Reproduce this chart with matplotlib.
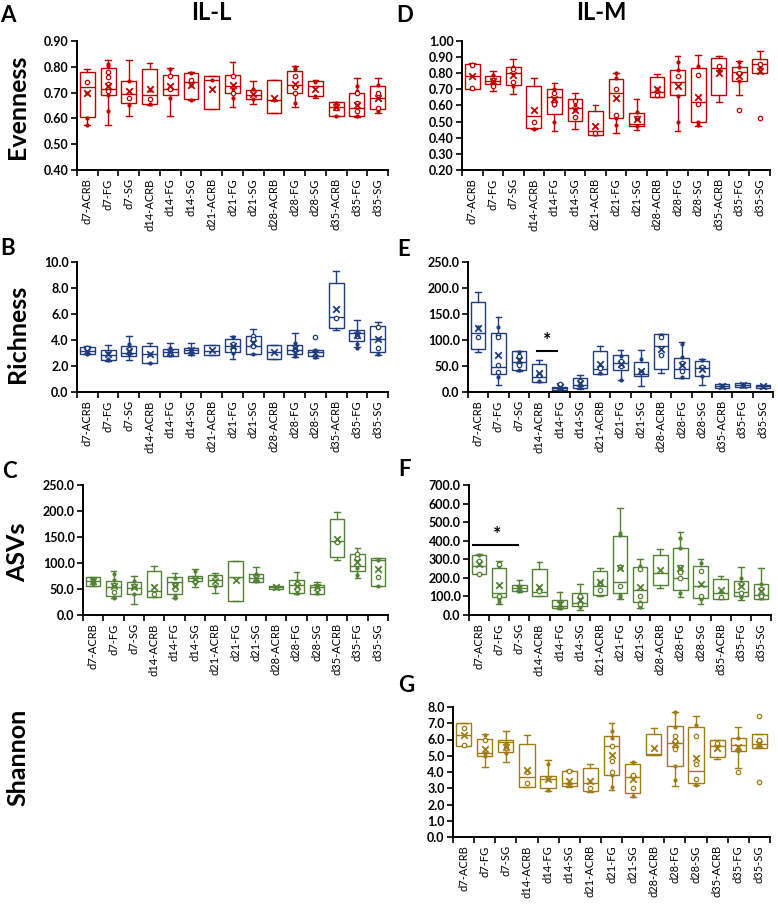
import matplotlib.pyplot as plt
from matplotlib.ticker import FormatStrFormatter, MultipleLocator

plt.rcParams['font.family'] = ['Lato', 'DejaVu Sans']

groups = ['d7-ACRB', 'd7-FG', 'd7-SG', 'd14-ACRB', 'd14-FG', 'd14-SG',
          'd21-ACRB', 'd21-FG', 'd21-SG', 'd28-ACRB', 'd28-FG', 'd28-SG',
          'd35-ACRB', 'd35-FG', 'd35-SG']

RED = '#C00000'
BLUE = '#1F3C7C'
GREEN = '#548235'
GOLD = '#A07B12'

# box rows: (whisker low, q1, median, q3, whisker high)

# A - IL-L evenness
even_L_box = [(0.575, 0.605, 0.72, 0.78, 0.79), (0.575, 0.69, 0.715, 0.795, 0.825),
              (0.61, 0.66, 0.695, 0.745, 0.825), (0.65, 0.655, 0.69, 0.79, 0.815),
              (0.61, 0.69, 0.715, 0.77, 0.795), (0.67, 0.675, 0.74, 0.775, 0.78),
              (0.635, 0.635, 0.75, 0.765, 0.765), (0.645, 0.70, 0.725, 0.77, 0.82),
              (0.655, 0.675, 0.69, 0.71, 0.745), (0.62, 0.62, 0.67, 0.75, 0.75),
              (0.645, 0.70, 0.73, 0.785, 0.805), (0.68, 0.685, 0.725, 0.745, 0.75),
              (0.61, 0.61, 0.645, 0.665, 0.665), (0.605, 0.61, 0.64, 0.70, 0.755),
              (0.62, 0.635, 0.68, 0.725, 0.755)]
even_L_mean = [0.70, 0.725, 0.705, 0.715, 0.725, 0.73, 0.715, 0.73, 0.695, 0.68,
               0.735, 0.715, 0.645, 0.65, 0.68]
even_L_dots = [[0.70, 0.60, 0.575], [0.81, 0.69, 0.63, 0.805], [0.745, 0.65], [0.71, 0.655],
               [0.79, 0.72, 0.68], [0.775, 0.67, 0.73], [0.75], [0.68, 0.715], [0.715, 0.675],
               [0.67], [0.80, 0.79, 0.66], [0.74, 0.685], [0.66, 0.61], [0.725, 0.61, 0.705],
               [0.73, 0.63]]
even_L_rings = [[0.74], [0.78, 0.76, 0.735, 0.705], [0.68], [0.675], [0.765, 0.715], [0.75],
                [], [0.765, 0.70], [], [], [0.765, 0.72, 0.70], [], [0.64],
                [0.70, 0.66, 0.63], [0.70, 0.64]]

# D - IL-M evenness
even_M_box = [(0.70, 0.705, 0.78, 0.855, 0.865), (0.69, 0.735, 0.755, 0.785, 0.815),
              (0.67, 0.725, 0.80, 0.84, 0.89), (0.455, 0.46, 0.535, 0.72, 0.77),
              (0.44, 0.55, 0.65, 0.705, 0.74), (0.455, 0.505, 0.585, 0.64, 0.675),
              (0.42, 0.42, 0.44, 0.565, 0.60), (0.43, 0.52, 0.68, 0.765, 0.80),
              (0.445, 0.475, 0.485, 0.555, 0.64), (0.65, 0.65, 0.685, 0.775, 0.795),
              (0.44, 0.665, 0.745, 0.82, 0.905), (0.47, 0.495, 0.62, 0.835, 0.915),
              (0.62, 0.665, 0.83, 0.895, 0.905), (0.665, 0.75, 0.805, 0.84, 0.875),
              (0.80, 0.80, 0.855, 0.89, 0.935)]
even_M_mean = [0.78, 0.755, 0.79, 0.57, 0.64, 0.575, 0.475, 0.645, 0.515, 0.70, 0.72,
               0.655, 0.80, 0.785, 0.815]
even_M_dots = [[], [0.79, 0.74, 0.72], [0.84, 0.72], [0.455], [0.70, 0.60, 0.50], [0.60, 0.57],
               [0.425], [0.80, 0.77, 0.52, 0.48], [0.56, 0.47], [0.70], [0.87, 0.82, 0.66, 0.50],
               [0.845, 0.495, 0.48], [0.82], [0.87, 0.84, 0.75], [0.84]]
even_M_rings = [[0.85, 0.71], [0.76, 0.72], [0.825, 0.745], [0.50], [0.68, 0.63, 0.61],
                [0.63, 0.53], [0.43], [0.70, 0.54], [0.52], [0.665], [0.78], [0.79, 0.61],
                [0.845], [0.575, 0.80], [0.525, 0.86]]

# B - IL-L richness
rich_L_box = [(2.9, 2.9, 3.15, 3.45, 3.55), (2.4, 2.5, 2.85, 3.2, 3.65), (2.45, 2.75, 3.0, 3.55, 4.3),
              (2.2, 2.25, 2.9, 3.55, 3.75), (2.8, 2.8, 3.1, 3.3, 3.8), (2.85, 3.0, 3.2, 3.35, 3.75),
              (2.85, 2.85, 3.15, 3.65, 3.65), (2.55, 3.1, 3.55, 4.05, 4.3), (2.9, 2.95, 3.55, 4.3, 4.85),
              (2.55, 2.55, 3.1, 3.6, 3.6), (2.7, 2.95, 3.25, 3.65, 4.5), (2.65, 2.8, 3.05, 3.25, 3.25),
              (4.75, 4.95, 5.75, 8.4, 9.3), (3.45, 3.9, 4.5, 4.8, 5.5), (2.85, 3.05, 4.05, 5.05, 5.4)]
rich_L_mean = [3.15, 2.9, 3.15, 2.9, 3.1, 3.2, 3.2, 3.55, 3.75, 3.1, 3.35, 3.0, 6.35, 4.4, 4.1]
rich_L_dots = [[2.95, 3.1, 3.4], [2.55, 3.0, 2.45], [3.7, 2.9, 3.1], [2.2, 2.9], [3.35, 3.05, 2.85],
               [3.3, 3.0, 2.9], [], [4.2, 3.0, 3.4], [3.6, 2.95], [], [3.75, 2.8, 3.1], [3.2, 2.7],
               [], [4.6, 3.7, 3.4], [4.1, 2.9]]
rich_L_rings = [[3.4], [], [3.3], [], [3.0], [], [], [3.7, 3.2], [4.3, 4.1, 3.5], [], [3.3], [4.2],
                [5.7], [4.3], [5.0, 3.4]]

# E - IL-M richness
rich_M_box = [(76, 82, 114, 174, 192), (14, 35, 48, 114, 145), (41, 43, 58, 78, 78), (20, 20, 28, 54, 61),
              (3, 4, 8, 10, 18), (5, 8, 14, 26, 33), (34, 34, 45, 78, 88), (24, 42, 56, 71, 81),
              (11, 31, 35, 58, 81), (37, 45, 88, 111, 111), (27, 27, 45, 66, 97), (13, 31, 46, 60, 63),
              (8, 8, 12, 15, 15), (9, 10, 13, 17, 18), (8.5, 8.5, 11, 13.5, 13.5)]
rich_M_mean = [124, 72, 62, 36, 10, 18, 53, 54, 40, 82, 52, 45, 12, 14, 11]
rich_M_dots = [[125], [125, 28], [77, 42], [22], [5], [10], [36], [70, 24], [64, 36], [110],
               [92, 67, 28], [62, 30], [], [16, 11], []]
rich_M_rings = [[105], [110, 105, 52, 38], [52, 70], [32], [15], [22], [47], [60, 50], [38],
                [105, 72], [40, 55], [48], [], [], []]

# C - IL-L ASVs
asv_L_box = [(56, 56, 65, 73, 73), (32, 37, 54, 65, 85), (22, 40, 51, 64, 75), (35, 35, 46, 85, 95),
             (32, 40, 63, 74, 80), (53, 65, 72, 75, 88), (43, 56, 67, 76, 81), (26, 26, 73, 103, 103),
             (63, 64, 72, 78, 92), (50, 50, 54, 56, 56), (40, 42, 58, 67, 82), (40, 40, 53, 58, 63),
             (106, 112, 143, 185, 199), (71, 85, 95, 118, 129), (56, 56, 106, 109, 109)]
asv_L_mean = [65, 55, 53, 54, 55, 70, 66, 67, 72, 53, 55, 53, 147, 101, 88]
asv_L_dots = [[60, 70], [78, 68, 35, 33], [65, 40], [], [72, 36, 33], [85, 68, 62], [75, 55], [],
              [78, 66], [], [65, 42], [58, 42], [], [90, 77], [106, 56]]
asv_L_rings = [[65], [58, 45], [55], [40], [57, 50], [65], [], [], [], [], [60, 50], [50], [140],
               [110, 118], [74]]

# F - IL-M ASVs
asv_M_box = [(221, 221, 266, 323, 328), (57, 95, 120, 255, 291), (126, 129, 144, 162, 188),
             (104, 104, 126, 248, 287), (31, 36, 50, 81, 126), (27, 50, 63, 117, 165),
             (104, 108, 158, 237, 255), (86, 117, 176, 427, 574), (36, 68, 135, 260, 301),
             (144, 162, 228, 323, 355), (99, 135, 201, 363, 449), (57, 93, 156, 265, 300),
             (86, 86, 117, 194, 212), (81, 104, 126, 185, 260), (86, 86, 108, 167, 251)]
asv_M_mean = [273, 162, 147, 153, 60, 80, 180, 251, 153, 242, 255, 165, 135, 158, 129]
asv_M_dots = [[325], [265, 85, 70], [155, 130], [], [70, 38], [45], [], [440, 430, 265, 110, 95],
              [265, 70, 45], [], [415, 360, 120], [280, 85], [130], [200, 95], [165, 90]]
asv_M_rings = [[290, 222], [275, 105], [], [130], [], [100, 60], [175, 135], [260, 155],
               [250, 100, 60], [], [260, 230, 200], [235, 100], [95], [165, 120], [140, 100]]

# G - IL-M Shannon
shan_M_box = [(5.57, 5.57, 6.25, 6.99, 6.99), (4.33, 5.0, 5.2, 6.02, 6.35), (4.64, 5.26, 5.86, 5.98, 6.5),
              (3.05, 3.05, 3.7, 5.71, 6.25), (2.85, 3.0, 3.6, 3.77, 4.74), (3.1, 3.15, 3.3, 4.08, 4.1),
              (2.8, 2.85, 3.3, 4.27, 4.5), (2.9, 3.81, 5.63, 6.19, 7.0), (2.47, 2.72, 3.71, 4.47, 4.64),
              (5.05, 5.05, 5.1, 6.33, 6.7), (3.13, 4.39, 5.78, 6.85, 7.71), (3.18, 3.3, 4.06, 6.8, 7.42),
              (4.8, 4.91, 5.6, 5.94, 5.94), (4.27, 5.3, 5.67, 6.12, 6.76), (5.5, 5.5, 5.7, 6.31, 6.31)]
shan_M_mean = [6.25, 5.42, 5.55, 4.12, 3.55, 3.45, 3.45, 5.05, 3.6, 5.5, 5.7, 4.85, 5.5, 5.55, 5.75]
shan_M_dots = [[], [6.3, 5.0, 5.2], [5.8, 5.2], [], [4.5, 3.6, 2.9], [3.2], [], [6.5, 6.1, 3.8, 3.05],
               [4.6, 2.55], [], [7.7, 6.8, 5.5, 4.4, 3.5], [6.9, 3.2], [], [6.1, 5.4, 5.3], [5.6]]
shan_M_rings = [[6.7, 5.65], [6.0], [5.5], [4.0, 3.35], [], [4.05], [3.0], [5.6, 4.7, 4.0],
                [3.8, 3.0], [], [6.2, 5.9, 5.6, 5.4], [6.2, 3.6, 4.5], [5.8], [4.0], [7.45, 5.95, 3.4]]


W, H = 778, 906
fig = plt.figure(figsize=(W / 100, H / 100), dpi=100)


def px_axes(left, right, top, bottom):
    return fig.add_axes([left / W, 1 - bottom / H, (right - left) / W, (bottom - top) / H])


def box_panel(ax, box, means, dots, rings, color, ymax, step, fmt):
    pos = list(range(1, len(groups) + 1))
    stats = [dict(whislo=b[0], q1=b[1], med=b[2], q3=b[3], whishi=b[4], fliers=[]) for b in box]
    lw = 1.0
    ax.bxp(stats, positions=pos, widths=0.72, capwidths=0.28, patch_artist=True, showfliers=False,
           boxprops=dict(facecolor='white', edgecolor=color, linewidth=lw),
           whiskerprops=dict(color=color, linewidth=lw),
           capprops=dict(color=color, linewidth=lw),
           medianprops=dict(color=color, linewidth=lw))
    for i, p in enumerate(pos):
        if dots[i]:
            ax.scatter([p] * len(dots[i]), dots[i], s=9, color=color, zorder=4, linewidths=0)
        if rings[i]:
            ax.scatter([p] * len(rings[i]), rings[i], s=10, facecolor='white', edgecolor=color,
                       linewidths=0.9, zorder=5)
    ax.scatter(pos, means, marker='x', s=22, color=color, linewidths=1.3, zorder=6)

    ax.set_xlim(0.5, len(groups) + 0.5)
    ax.set_ylim(0, ymax) if ymax > 1.5 else None
    ax.yaxis.set_major_locator(MultipleLocator(step))
    ax.yaxis.set_major_formatter(FormatStrFormatter(fmt))
    ax.set_xticks(pos)
    ax.set_xticklabels(groups, rotation=90, fontsize=8)
    ax.set_xticks([p + 0.5 for p in range(0, len(groups) + 1)], minor=True)
    ax.tick_params(axis='x', which='major', length=0, pad=6)
    ax.tick_params(axis='x', which='minor', length=4, width=1.2, direction='out')
    ax.tick_params(axis='y', length=4, width=1.2, direction='out', pad=2, labelsize=9)
    for lab in ax.get_yticklabels():
        lab.set_fontweight('bold')
    for s in ['top', 'right']:
        ax.spines[s].set_visible(False)
    for s in ['left', 'bottom']:
        ax.spines[s].set_linewidth(1.4)
    return ax


# A
axA = px_axes(77, 388, 41, 170)
box_panel(axA, even_L_box, even_L_mean, even_L_dots, even_L_rings, RED, 0, 0.1, '%.2f')
axA.set_ylim(0.40, 0.90)

# D
axD = px_axes(462, 770, 41, 170)
box_panel(axD, even_M_box, even_M_mean, even_M_dots, even_M_rings, RED, 0, 0.1, '%.2f')
axD.set_ylim(0.20, 1.00)

# B
axB = px_axes(77, 388, 262, 392)
box_panel(axB, rich_L_box, rich_L_mean, rich_L_dots, rich_L_rings, BLUE, 10, 2, '%.1f')

# E
axE = px_axes(468, 773, 262, 392)
box_panel(axE, rich_M_box, rich_M_mean, rich_M_dots, rich_M_rings, BLUE, 250, 50, '%.1f')
axE.plot([3.9, 4.9], [78, 78], color='black', lw=1.5)
axE.text(4.4, 82, '*', ha='center', va='bottom', fontsize=14, fontweight='bold')

# C
axC = px_axes(83, 388, 485, 615)
box_panel(axC, asv_L_box, asv_L_mean, asv_L_dots, asv_L_rings, GREEN, 250, 50, '%.1f')

# F
axF = px_axes(469, 771, 485, 615)
box_panel(axF, asv_M_box, asv_M_mean, asv_M_dots, asv_M_rings, GREEN, 700, 100, '%.1f')
axF.plot([0.7, 2.95], [377, 377], color='black', lw=1.5)
axF.text(1.9, 390, '*', ha='center', va='bottom', fontsize=14, fontweight='bold')

# G
axG = px_axes(453, 770, 707, 837)
box_panel(axG, shan_M_box, shan_M_mean, shan_M_dots, shan_M_rings, GOLD, 8, 1, '%.1f')

# titles, panel letters, row labels
fig.text(211 / W, 1 - 13 / H, 'IL-L', ha='center', va='center', fontsize=17, fontweight='bold')
fig.text(601 / W, 1 - 13 / H, 'IL-M', ha='center', va='center', fontsize=17, fontweight='bold')

letters = [('A', 8, 15), ('D', 405, 15), ('B', 8, 248), ('E', 404, 249),
           ('C', 9, 471), ('F', 404, 470), ('G', 406, 686)]
for t, x, y in letters:
    fig.text(x / W, 1 - y / H, t, ha='center', va='center', fontsize=16, fontweight='bold')

rows = [('Evenness', 107), ('Richness', 334), ('ASVs', 552), ('Shannon', 757)]
for t, y in rows:
    fig.text(18 / W, 1 - y / H, t, ha='center', va='center', rotation=90, fontsize=18,
             fontweight='bold')

fig.savefig('out.png', dpi=100)
